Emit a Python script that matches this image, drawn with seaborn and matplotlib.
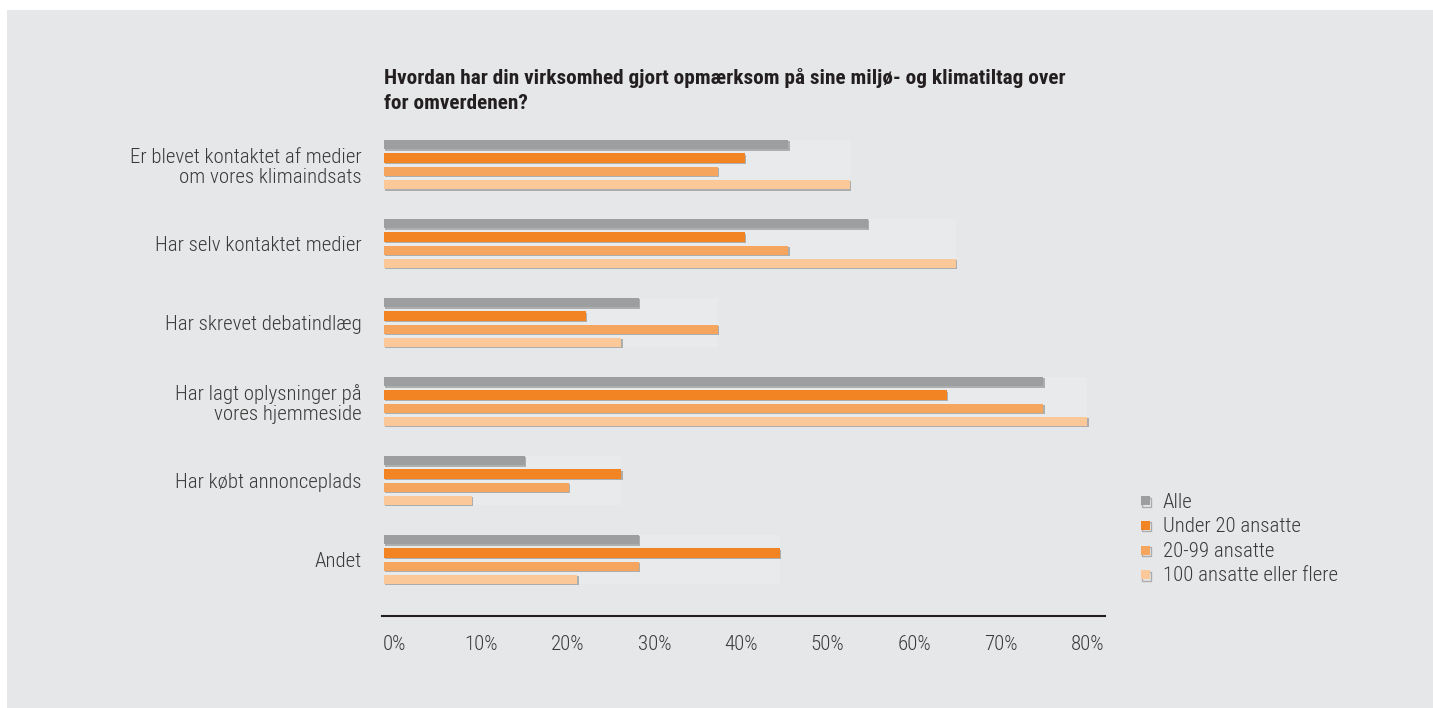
import numpy as np
import pandas as pd
import matplotlib
matplotlib.use("Agg")
import matplotlib.pyplot as plt
import matplotlib.patheffects as pe
from matplotlib.patches import Rectangle
from matplotlib.lines import Line2D
import seaborn as sns

# --- data -------------------------------------------------------------
categories = [
    "Er blevet kontaktet af medier\nom vores klimaindsats",
    "Har selv kontaktet medier",
    "Har skrevet debatindlæg",
    "Har lagt oplysninger på\nvores hjemmeside",
    "Har købt annonceplads",
    "Andet",
]
groups = ["Alle", "Under 20 ansatte", "20-99 ansatte", "100 ansatte eller flere"]
alle = [46, 55, 29, 75, 16, 29]
under_20 = [41, 41, 23, 64, 27, 45]
ansatte_20_99 = [38, 46, 38, 75, 21, 29]
ansatte_100_plus = [53, 65, 27, 80, 10, 22]
tick_labels = ["0%", "10%", "20%", "30%", "40%", "50%", "60%", "70%", "80%"]
title_lines = [
    "Hvordan har din virksomhed gjort opmærksom på sine miljø- og klimatiltag over",
    "for omverdenen?",
]

colors = ["#9d9ea0", "#f28424", "#f6a55e", "#fbc89a"]
panel_bg = "#e6e7e8"
track_bg = "#e9eaeb"
text_col = "#3a3a3a"

series = [alle, under_20, ansatte_20_99, ansatte_100_plus]
df = pd.DataFrame(
    [(c, g, v) for g, vals in zip(groups, series) for c, v in zip(categories, vals)],
    columns=["kategori", "gruppe", "andel"],
)
group_max = df.groupby("kategori", sort=False)["andel"].max().reindex(categories)

# --- figure -------------------------------------------------------------
sns.set_theme(style="white")
plt.rcParams["font.family"] = ["Roboto Condensed", "DejaVu Sans"]
plt.rcParams["font.weight"] = "light"

W, H = 1433, 708
fig = plt.figure(figsize=(W / 100, H / 100), dpi=100)
fig.patch.set_facecolor("white")
fig.add_artist(Rectangle((7 / W, 0), 1 - 7 / W, 1 - 10 / H,
                         transform=fig.transFigure, facecolor=panel_bg,
                         edgecolor="none", zorder=0))

ax = fig.add_axes([382 / W, 1 - 616 / H, (1105 - 382) / W, (616 - 130) / H])
ax.set_facecolor("none")

# faint track behind each block of bars, as long as the longest bar
ax.barh(np.arange(len(categories)), group_max.values, height=0.62,
        color=track_bg, edgecolor="none", linewidth=0, zorder=0.5)

sns.barplot(data=df, y="kategori", x="andel", hue="gruppe", order=categories,
            hue_order=groups, palette=colors, orient="h", width=0.673, gap=0.30,
            saturation=1, legend=False, ax=ax, zorder=2)

shadow = [pe.SimplePatchShadow(offset=(0.8, -1.0), shadow_rgbFace="#7d7d7d", alpha=0.55),
          pe.Normal()]
for bar in ax.patches[len(categories):]:
    bar.set_path_effects(shadow)
    bar.set_edgecolor("none")
    bar.set_linewidth(0)

ax.set_xlim(-0.23, 82.0)
ax.set_ylim(5.715, -0.437)
ax.set_xticks(np.linspace(1.2, 80, len(tick_labels)))
ax.set_xticklabels(tick_labels)
ax.set_xlabel("")
ax.set_ylabel("")

for s in ["top", "right", "left"]:
    ax.spines[s].set_visible(False)
ax.spines["bottom"].set_color("#231f20")
ax.spines["bottom"].set_linewidth(1.5)

ax.tick_params(axis="x", length=0, pad=14, labelsize=15, labelcolor=text_col)
ax.tick_params(axis="y", length=0, pad=14.5, labelsize=15, labelcolor=text_col)
for lab in ax.get_yticklabels() + ax.get_xticklabels():
    lab.set_fontweight("light")
for lab in ax.get_yticklabels():
    lab.set_linespacing(1.1)

# title, two lines
for txt, base in zip(title_lines, [84, 109]):
    fig.text(384 / W, 1 - base / H, txt, ha="left", va="baseline",
             fontsize=15.3, fontweight="bold", color="#231f20")

handles = [Line2D([], [], marker="s", linestyle="none", markersize=6.5,
                  markerfacecolor=c, markeredgecolor="none", label=g,
                  path_effects=[pe.SimpleLineShadow(offset=(0.8, -1.0), shadow_color="#7d7d7d",
                                                    alpha=0.55), pe.Normal()])
           for c, g in zip(colors, groups)]
leg = fig.legend(handles=handles, loc="center left", bbox_to_anchor=(1139 / W, 1 - 539 / H),
                 frameon=False, fontsize=15, handlelength=0.6, handleheight=0.5,
                 handletextpad=0.55, labelspacing=0.27, borderpad=0, borderaxespad=0)
for t in leg.get_texts():
    t.set_color(text_col)
    t.set_fontweight("light")

fig.savefig("out.png", dpi=100, facecolor=fig.get_facecolor())
